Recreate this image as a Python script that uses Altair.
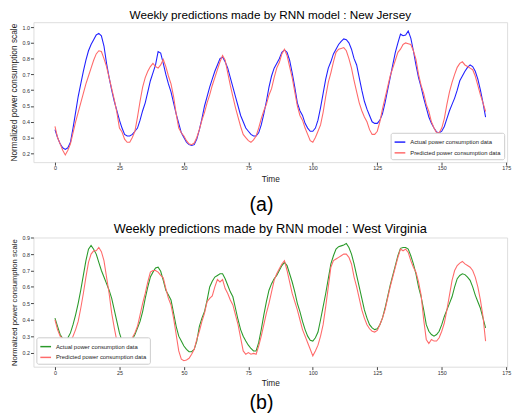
import altair as alt
import pandas as pd

time = list(range(168))

nj_actual = [
    .35, .30, .26, .235, .225, .235, .27, .36, .46, .56,
    .64, .72, .79, .85, .89, .92, .95, .96, .945, .88,
    .77, .68, .60, .53, .47, .41, .36, .32, .31, .31,
    .32, .34, .36, .41, .47, .52, .59, .66, .71, .76,
    .845, .835, .77, .70, .64, .59, .52, .45, .39, .33,
    .30, .27, .255, .25, .255, .29, .35, .42, .50, .56,
    .62, .67, .72, .76, .80, .81, .78, .74, .68, .62,
    .56, .50, .44, .40, .36, .34, .32, .31, .31, .33,
    .38, .45, .53, .62, .69, .74, .77, .80, .84, .855,
    .84, .79, .71, .62, .52, .47, .44, .39, .36, .34,
    .34, .36, .41, .49, .58, .67, .74, .78, .83, .86,
    .89, .91, .925, .92, .90, .86, .80, .76, .68, .60,
    .53, .48, .44, .40, .39, .39, .41, .45, .52, .60,
    .68, .76, .84, .90, .955, .945, .95, .975, .93, .85,
    .76, .68, .62, .55, .49, .43, .39, .36, .335, .33,
    .34, .37, .42, .47, .51, .55, .60, .66, .69, .72,
    .745, .76, .75, .72, .67, .60, .52, .43,
]

nj_pred = [
    .37, .30, .26, .22, .19, .22, .26, .33, .40, .46,
    .52, .58, .64, .69, .74, .79, .83, .85, .845, .80,
    .75, .68, .61, .54, .46, .36, .335, .29, .27, .27,
    .30, .34, .43, .53, .62, .68, .72, .75, .77, .75,
    .74, .76, .795, .75, .69, .64, .56, .45, .36, .33,
    .31, .28, .26, .255, .265, .30, .35, .41, .46, .52,
    .57, .63, .68, .73, .78, .82, .79, .71, .63, .56,
    .49, .43, .37, .32, .30, .28, .27, .285, .31, .36,
    .42, .47, .51, .57, .61, .68, .74, .775, .83, .86,
    .82, .75, .68, .59, .50, .44, .41, .36, .32, .28,
    .27, .30, .34, .38, .46, .56, .65, .71, .78, .84,
    .86, .865, .87, .85, .80, .74, .66, .59, .52, .47,
    .43, .40, .35, .32, .32, .34, .40, .48, .55, .62,
    .69, .74, .79, .84, .86, .89, .90, .895, .89, .85,
    .795, .70, .63, .58, .51, .465, .40, .36, .33, .33,
    .36, .42, .51, .59, .65, .70, .745, .77, .78, .76,
    .75, .74, .73, .69, .63, .57, .52, .465,
]

wv_actual = [
    .41, .36, .31, .285, .275, .29, .32, .37, .43, .50,
    .58, .67, .76, .83, .853, .83, .80, .75, .70, .66,
    .62, .58, .53, .46, .39, .32, .27, .245, .24, .255,
    .28, .31, .35, .39, .45, .53, .60, .66, .69, .715,
    .72, .695, .64, .58, .55, .52, .44, .36, .30, .27,
    .24, .22, .205, .205, .22, .27, .36, .41, .45, .52,
    .60, .635, .66, .67, .68, .68, .65, .61, .57, .54,
    .47, .40, .34, .30, .27, .245, .225, .21, .21, .26,
    .34, .43, .51, .58, .62, .65, .67, .70, .73, .75,
    .73, .68, .63, .57, .50, .45, .39, .34, .30, .275,
    .27, .29, .325, .40, .48, .56, .65, .74, .79, .83,
    .845, .85, .855, .865, .84, .80, .74, .67, .60, .53,
    .46, .41, .37, .35, .34, .345, .37, .41, .47, .54,
    .61, .67, .73, .79, .835, .84, .84, .83, .79, .74,
    .68, .60, .54, .46, .37, .33, .31, .30, .31, .33,
    .37, .42, .46, .50, .54, .60, .65, .67, .68, .675,
    .66, .64, .60, .55, .51, .47, .41, .35,
]

wv_pred = [
    .40, .34, .30, .285, .27, .26, .27, .30, .34, .39,
    .47, .56, .66, .75, .80, .82, .82, .84, .815, .76,
    .66, .56, .44, .35, .27, .24, .25, .24, .235, .26,
    .29, .32, .36, .43, .50, .56, .63, .69, .70, .70,
    .69, .67, .655, .59, .53, .49, .41, .31, .21, .16,
    .15, .155, .165, .19, .22, .28, .33, .39, .44, .51,
    .53, .545, .60, .645, .63, .645, .59, .56, .52, .49,
    .43, .37, .29, .21, .19, .20, .19, .195, .19, .24,
    .30, .37, .44, .50, .57, .64, .68, .71, .74, .76,
    .70, .63, .56, .51, .46, .40, .34, .30, .26, .22,
    .18, .21, .245, .30, .37, .48, .60, .72, .76, .77,
    .78, .79, .80, .80, .78, .74, .66, .60, .53, .46,
    .41, .37, .345, .33, .325, .335, .37, .41, .46, .53,
    .60, .66, .72, .78, .83, .82, .83, .81, .76, .72,
    .69, .63, .55, .40, .28, .255, .28, .27, .27, .29,
    .33, .38, .46, .55, .64, .70, .73, .745, .755, .74,
    .73, .72, .70, .66, .60, .52, .42, .27,
]

x_ticks = [0, 25, 50, 75, 100, 125, 150, 175]
y_ticks_a = [0.2, 0.3, 0.4, 0.5, 0.6, 0.7, 0.8, 0.9, 1.0]
y_ticks_b = [0.2, 0.3, 0.4, 0.5, 0.6, 0.7, 0.8, 0.9]
series = ["Actual power consumption data", "Predicted power consumption data"]

FONT = "Liberation Sans"
W = 484


def long_df(actual, pred):
    rows = []
    for t, a, p in zip(time, actual, pred):
        rows.append({"t": t, "v": a, "s": series[0]})
        rows.append({"t": t, "v": p, "s": series[1]})
    return pd.DataFrame(rows)


def panel(actual, pred, colors, ydom, yticks, h, title, tsize, legend_orient, ytitle_size):
    df = long_df(actual, pred)
    return alt.Chart(df).mark_line(strokeWidth=1.1, clip=True).encode(
        x=alt.X("t:Q", scale=alt.Scale(domain=[-8.35, 175.35], nice=False, zero=False),
                axis=alt.Axis(values=x_ticks, title="Time", labelFontSize=5.5, tickSize=3,
                              labelPadding=1, titleFontSize=8.5, titleFontWeight="normal",
                              titlePadding=3, domain=False, grid=False, tickColor="#444",
                              labelColor="#333", titleColor="#222", labelFont=FONT, titleFont=FONT,
                              labelFlush=False)),
        y=alt.Y("v:Q", scale=alt.Scale(domain=ydom, nice=False, zero=False),
                axis=alt.Axis(values=yticks, format=".1f", title="Normalized power consumption scale",
                              labelFontSize=5.5, tickSize=3, labelPadding=1,
                              titleFontSize=ytitle_size, titleFontWeight="normal", titlePadding=4,
                              domain=False, grid=False, tickColor="#444", labelColor="#333",
                              titleColor="#222", labelFont=FONT, titleFont=FONT)),
        color=alt.Color("s:N", scale=alt.Scale(domain=series, range=colors),
                        legend=alt.Legend(title=None, orient=legend_orient, offset=3,
                                          labelFontSize=6, labelFont=FONT, symbolType="stroke",
                                          symbolSize=120, symbolStrokeWidth=1.5, rowPadding=1,
                                          padding=3, strokeColor="#cccccc", fillColor="white",
                                          cornerRadius=2, labelLimit=300, labelColor="#222")),
        detail="s:N",
    ).properties(
        width=W, height=h,
        title=alt.TitleParams(title, fontSize=tsize, font=FONT, fontWeight="normal",
                              offset=0, anchor="middle", color="black"),
    )


def caption(text, h, yy):
    df = pd.DataFrame({"c": [text]})
    return alt.Chart(df).mark_text(fontSize=20, font=FONT, color="black", baseline="middle").encode(
        text="c:N", x=alt.value(233), y=alt.value(yy)
    ).properties(width=W, height=h, view=alt.ViewBackground(stroke=None))


top = panel(nj_actual, nj_pred, ["#2020ff", "#ff6a6a"], [0.144, 1.031], y_ticks_a, 143,
            "Weekly predictions made by RNN model : New Jersey", 12, "bottom-right", 8.5)
bottom = panel(wv_actual, wv_pred, ["#2a9a2a", "#ff6b6b"], [0.114, 0.901], y_ticks_b, 132,
               "Weekly predictions made by RNN model : West Virginia", 13, "bottom-left", 7.8)

chart = alt.vconcat(
    top, caption("(a)", 39, 22), bottom, caption("(b)", 30, 15), spacing=0
).resolve_scale(color="independent").resolve_legend(color="independent").configure_view(
    stroke="#b5b5b5", strokeWidth=1.2
).configure(padding={"left": 0, "top": -4, "right": 0, "bottom": 0}, background="white")

chart.save("out.html", embed_options={"renderer": "svg", "actions": False})
